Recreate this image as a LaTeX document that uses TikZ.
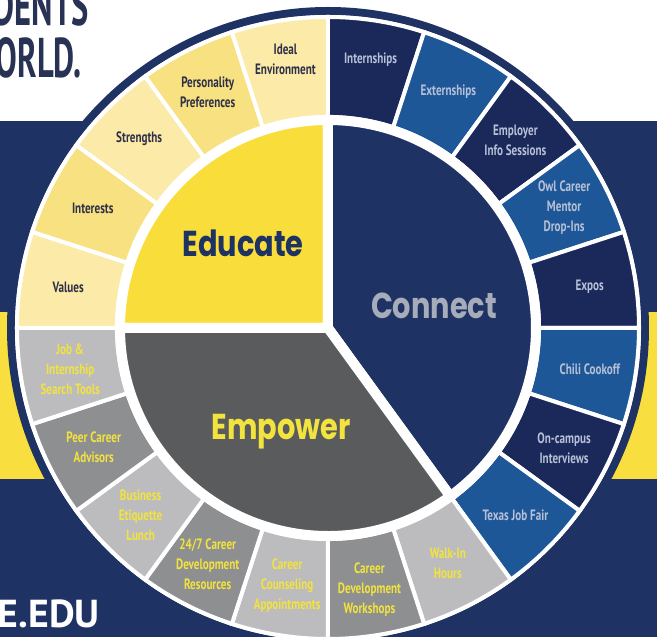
\documentclass[tikz,border=0pt]{standalone}
\usepackage{fontspec}
\newfontfamily\ringfont{PT Sans}[FakeStretch=0.74]
\newfontfamily\hubfont{Poppins}[FakeStretch=0.8]
\newfontfamily\bannerfont{PT Sans}[FakeStretch=0.58]
\newfontfamily\webfont{PT Sans}[FakeStretch=1.02]
\definecolor{navybg}{RGB}{31, 50, 100}
\definecolor{banyellow}{RGB}{248, 222, 62}
\definecolor{educyellow}{RGB}{249, 221, 58}
\definecolor{edulight}{RGB}{251, 234, 168}
\definecolor{edumid}{RGB}{248, 225, 128}
\definecolor{eduink}{RGB}{45, 48, 72}
\definecolor{condark}{RGB}{27, 40, 90}
\definecolor{conmid}{RGB}{30, 87, 152}
\definecolor{conink}{RGB}{182, 192, 214}
\definecolor{congray}{RGB}{166, 172, 186}
\definecolor{empgray}{RGB}{90, 91, 93}
\definecolor{emplight}{RGB}{188, 188, 190}
\definecolor{empmid}{RGB}{142, 143, 145}
\definecolor{empink}{RGB}{242, 227, 62}
\definecolor{titleink}{RGB}{40, 50, 85}

\begin{document}
\begin{tikzpicture}[x=1pt, y=1pt,
  seg/.style={fill=#1, draw=white, line width=4pt},
  hub/.style={fill=#1, draw=white, line width=10pt},
  ringlabel/.style={font=\ringfont\bfseries\fontsize{15}{20}\selectfont, align=center, inner sep=0pt},
  hublabel/.style={font=\hubfont\bfseries\fontsize{36}{36}\selectfont, inner sep=0pt, anchor=base},
  banner/.style={font=\bannerfont\bfseries\fontsize{56}{56}\selectfont, inner sep=0pt, anchor=base east}]

  \useasboundingbox (-328,-309) rectangle (329,328);

  % backdrop
  \fill[white] (-328,-309) rectangle (329,328);
  \fill[navybg] (-328,-309) rectangle (329,207);
  \fill[banyellow] (-328,16) rectangle (-228,-151);
  \fill[banyellow] (232,16) rectangle (329,-151);

  % wheel rim
  \fill[navybg] (0,0) circle[radius=321pt];
  \fill[white] (0,0) circle[radius=313pt];

  % outer ring, 20 slices of 18 degrees, clockwise from the top
  \foreach \k/\segc/\inkc/\rad/\txt in {
      0/condark/conink/272/Internships,
      1/conmid/conink/265/Externships,
      2/condark/conink/265/{Employer\\Info Sessions},
      3/conmid/conink/265/{Owl Career\\Mentor\\Drop-Ins},
      4/condark/conink/265/Expos,
      5/conmid/conink/265/Chili Cookoff,
      6/condark/conink/265/{On-campus\\Interviews},
      7/conmid/conink/265/Texas Job Fair,
      8/emplight/empink/264/{Walk-In\\Hours},
      9/empmid/empink/265/{Career\\Development\\Workshops},
      10/emplight/empink/261/{Career\\Counseling\\Appointments},
      11/empmid/empink/265/{24/7 Career\\Development\\Resources},
      12/emplight/empink/265/{Business\\Etiquette\\Lunch},
      13/empmid/empink/263/{Peer Career\\Advisors},
      14/emplight/empink/261/{Job \&\\Internship\\Search Tools},
      15/edulight/eduink/263/Values,
      16/edumid/eduink/264/Interests,
      17/edulight/eduink/267/Strengths,
      18/edumid/eduink/265/{Personality\\Preferences},
      19/edulight/eduink/272/{Ideal\\Environment}} {
    \pgfmathsetmacro\a{90-18*(\k+1)}
    \pgfmathsetmacro\b{90-18*\k}
    \pgfmathsetmacro\m{81-18*\k}
    \filldraw[seg=\segc] (\a:211pt) -- (\a:311pt)
      arc[start angle=\a, end angle=\b, radius=311pt] -- (\b:211pt)
      arc[start angle=\b, end angle=\a, radius=211pt] -- cycle;
    \node[ringlabel, text=\inkc] (seg\k) at (\m:\rad pt) {\txt};
  }

  % hub
  \filldraw[hub=educyellow] (0,0) -- (180:208pt) arc[start angle=180, end angle=90, radius=208pt] -- cycle;
  \filldraw[hub=navybg] (0,0) -- (90:208pt) arc[start angle=90, end angle=-54, radius=208pt] -- cycle;
  \filldraw[hub=empgray] (0,0) -- (-54:208pt) arc[start angle=-54, end angle=-180, radius=208pt] -- cycle;

  \node[hublabel, text=navybg] (educate) at (-85,71) {Educate};
  \node[hublabel, text=congray] (connect) at (106,9) {Connect};
  \node[hublabel, text=empink] (empower) at (-47,-112) {Empower};

  % cut-off banner words
  \node[banner, text=titleink] (dents) at (-239,302) {DENTS};
  \node[banner, text=titleink] (orld) at (-246,250) {ORLD.};
  \node[font=\webfont\bfseries\fontsize{39}{39}\selectfont, inner sep=0pt, anchor=base east, text=white] (edu) at (-228,-300) {E.EDU};
\end{tikzpicture}
\end{document}
